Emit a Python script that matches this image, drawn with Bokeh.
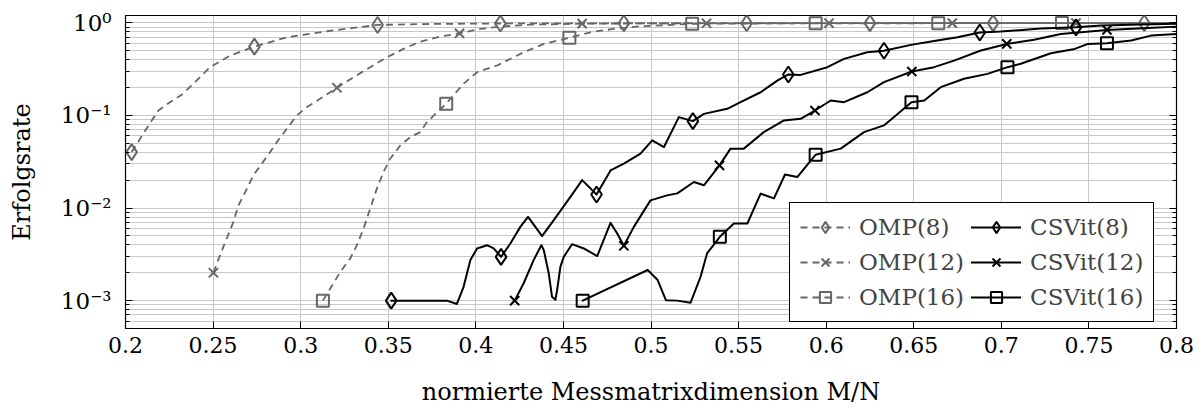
from bokeh.plotting import figure
from bokeh.models import FixedTicker, LogAxis, Legend, LegendItem, Range1d
from bokeh.embed import file_html
from bokeh.resources import INLINE

# ---------------- data ----------------
omp8_x = [0.2035, 0.215, 0.2188, 0.2254, 0.2321, 0.2406, 0.2483, 0.2597, 0.2736, 0.2921,
          0.315, 0.3439, 0.37, 0.40, 0.45, 0.50, 0.55, 0.60, 0.65, 0.70, 0.75, 0.80]
omp8_y = [0.0402, 0.0883, 0.113, 0.139, 0.167, 0.238, 0.332, 0.443, 0.554, 0.698,
          0.811, 0.949, 0.97, 0.982, 0.988, 0.99, 0.991, 0.992, 0.993, 0.994, 0.995, 0.995]
omp8_mx = [0.2035, 0.2736, 0.3439, 0.414, 0.4845, 0.5546, 0.625, 0.6953, 0.7816]
omp8_my = [0.0402, 0.554, 0.949, 0.985, 0.989, 0.991, 0.993, 0.994, 0.995]

omp12_x = [0.2502, 0.254, 0.2578, 0.2616, 0.2645, 0.2693, 0.273, 0.2778, 0.2826, 0.2864,
           0.2921, 0.2978, 0.3035, 0.3111, 0.3207, 0.3302, 0.3397, 0.3493, 0.3587, 0.3683,
           0.3797, 0.3907, 0.4026, 0.414, 0.431, 0.4607, 0.50, 0.55, 0.60, 0.65, 0.70, 0.75, 0.80]
omp12_y = [0.002, 0.0031, 0.00469, 0.00708, 0.0107, 0.0162, 0.0226, 0.0301, 0.0402, 0.0516,
           0.0718, 0.1, 0.123, 0.151, 0.199, 0.259, 0.332, 0.425, 0.523, 0.627,
           0.71, 0.771, 0.859, 0.91, 0.956, 0.98, 0.986, 0.989, 0.991, 0.992, 0.993, 0.994, 0.995]
omp12_mx = [0.2502, 0.3207, 0.3907, 0.4607, 0.5317, 0.6016, 0.672, 0.7426]
omp12_my = [0.002, 0.199, 0.771, 0.98, 0.988, 0.991, 0.992, 0.994]

omp16_x = [0.3127, 0.317, 0.3227, 0.3283, 0.3321, 0.3359, 0.3397, 0.3435, 0.3473, 0.3511,
           0.3569, 0.3626, 0.3683, 0.3721, 0.3831, 0.393, 0.4007, 0.4121, 0.4273, 0.4388,
           0.4534, 0.4654, 0.4787, 0.494, 0.5235, 0.56, 0.60, 0.65, 0.70, 0.75, 0.80]
omp16_y = [0.001, 0.00136, 0.00205, 0.00285, 0.00397, 0.00601, 0.00986, 0.0162, 0.0245, 0.0341,
           0.0475, 0.0584, 0.0661, 0.0847, 0.134, 0.22, 0.293, 0.346, 0.481, 0.592,
           0.688, 0.79, 0.86, 0.918, 0.975, 0.984, 0.988, 0.99, 0.992, 0.993, 0.994]
omp16_mx = [0.3127, 0.3831, 0.4534, 0.5235, 0.594, 0.664, 0.7346]
omp16_my = [0.001, 0.134, 0.688, 0.975, 0.988, 0.99, 0.993]

csv8_x = [0.3517, 0.3835, 0.3892, 0.393, 0.3969, 0.4007, 0.4064, 0.4102, 0.4144, 0.4197,
          0.4254, 0.4298, 0.434, 0.4378, 0.4445, 0.454, 0.4607, 0.4689, 0.4769, 0.4845,
          0.494, 0.5007, 0.5074, 0.5159, 0.5239, 0.5302, 0.5435, 0.5511, 0.5626, 0.5721,
          0.5784, 0.5854, 0.6007, 0.6102, 0.6235, 0.633, 0.6484, 0.6616, 0.675, 0.6877,
          0.6997, 0.7226, 0.7426, 0.757, 0.78, 0.80]
csv8_y = [0.001, 0.001, 0.00092, 0.00141, 0.00274, 0.00366, 0.00397, 0.00366, 0.00297, 0.00414,
          0.00626, 0.00802, 0.00626, 0.00497, 0.0074, 0.0132, 0.02, 0.014, 0.0255, 0.0301,
          0.0386, 0.0538, 0.0456, 0.0959, 0.0868, 0.104, 0.118, 0.139, 0.178, 0.238,
          0.277, 0.274, 0.332, 0.408, 0.481, 0.50, 0.578, 0.635, 0.698, 0.785,
          0.804, 0.866, 0.894, 0.933, 0.96, 0.975]
csv8_mx = [0.3517, 0.4144, 0.4689, 0.5239, 0.5784, 0.633, 0.6877, 0.7426]
csv8_my = [0.001, 0.00297, 0.014, 0.0868, 0.277, 0.50, 0.785, 0.894]

csv12_x = [0.4222, 0.4273, 0.433, 0.4374, 0.4388, 0.4416, 0.4435, 0.4454, 0.4464, 0.4483,
           0.4502, 0.4549, 0.4616, 0.4693, 0.4769, 0.4807, 0.4845, 0.4902, 0.4997, 0.5092,
           0.515, 0.5245, 0.5302, 0.5391, 0.5454, 0.553, 0.5644, 0.5759, 0.5854, 0.5936,
           0.6026, 0.6102, 0.6235, 0.633, 0.6489, 0.6616, 0.673, 0.6883, 0.7031, 0.7187,
           0.7339, 0.7603, 0.7835, 0.80]
csv12_y = [0.001, 0.00154, 0.00274, 0.00397, 0.0035, 0.00198, 0.0011, 0.00102, 0.0013, 0.00233,
           0.00297, 0.00407, 0.00366, 0.00303, 0.00691, 0.00531, 0.00391, 0.00626, 0.0121, 0.0137,
           0.0144, 0.0191, 0.0176, 0.0289, 0.0438, 0.0438, 0.0661, 0.0883, 0.092, 0.113,
           0.145, 0.139, 0.178, 0.229, 0.298, 0.332, 0.391, 0.502, 0.592, 0.655,
           0.759, 0.838, 0.881, 0.91]
csv12_mx = [0.4222, 0.4845, 0.5391, 0.5936, 0.6489, 0.7031, 0.7603]
csv12_my = [0.001, 0.00391, 0.0289, 0.113, 0.298, 0.592, 0.838]

csv16_x = [0.461, 0.4981, 0.5038, 0.5085, 0.515, 0.5226, 0.5283, 0.532, 0.5393, 0.5473,
           0.555, 0.5626, 0.5702, 0.5765, 0.5835, 0.594, 0.6083, 0.6216, 0.633, 0.6487,
           0.656, 0.6654, 0.6787, 0.6921, 0.7035, 0.7111, 0.7283, 0.7419, 0.7495, 0.7603,
           0.7741, 0.7855, 0.80]
csv16_y = [0.001, 0.00214, 0.00167, 0.00101, 0.001, 0.00095, 0.00181, 0.00323, 0.00489, 0.00681,
           0.00681, 0.0143, 0.0127, 0.023, 0.0216, 0.0377, 0.0438, 0.0661, 0.078, 0.139,
           0.145, 0.202, 0.249, 0.281, 0.332, 0.361, 0.47, 0.523, 0.592, 0.602,
           0.643, 0.728, 0.759]
csv16_mx = [0.461, 0.5393, 0.594, 0.6487, 0.7035, 0.7603]
csv16_my = [0.001, 0.00489, 0.0377, 0.139, 0.332, 0.602]

xticks = [0.2, 0.25, 0.3, 0.35, 0.4, 0.45, 0.5, 0.55, 0.6, 0.65, 0.7, 0.75, 0.8]
xtick_labels = ["0.2", "0.25", "0.3", "0.35", "0.4", "0.45", "0.5", "0.55", "0.6",
                "0.65", "0.7", "0.75", "0.8"]
yticks = [0.001, 0.01, 0.1, 1.0]
ytick_labels = ["10\u207b\u00b3", "10\u207b\u00b2", "10\u207b\u00b9", "10\u2070"]
decades = [0.0001, 0.001, 0.01, 0.1]
minor_mult = [2, 3, 4, 5, 6, 7, 8, 9]

legend_labels = ["OMP(8)", "OMP(12)", "OMP(16)", "CSVit(8)", "CSVit(12)", "CSVit(16)"]
x_title = "normierte Messmatrixdimension M/N"
y_title = "Erfolgsrate"

# ---------------- figure ----------------
FONT = "DejaVu Serif"
GRAY = "#666666"
GRID = "#c8c8c8"

p = figure(width=1203, height=415, y_axis_type="log",
           x_range=Range1d(0.2, 0.8), y_range=Range1d(5e-4, 1.2),
           output_backend="svg", toolbar_location=None,
           min_border_left=125, min_border_right=27, min_border_top=15, min_border_bottom=87)
p.background_fill_color = "white"
p.border_fill_color = "white"
p.outline_line_color = "black"
p.outline_line_width = 1.2

minor = [d * m for d in decades for m in minor_mult if 5e-4 <= d * m <= 1.2]
yticker = FixedTicker(ticks=yticks, minor_ticks=minor)
xticker = FixedTicker(ticks=xticks, minor_ticks=[])

p.xaxis.ticker = xticker
p.yaxis.ticker = yticker
p.xgrid.ticker = xticker
p.ygrid.ticker = yticker
p.xgrid.grid_line_color = GRID
p.ygrid.grid_line_color = GRID
p.ygrid.minor_grid_line_color = GRID
p.xgrid.grid_line_width = 1
p.ygrid.grid_line_width = 1

p.xaxis.major_label_overrides = dict(zip(xticks, xtick_labels))
p.yaxis.major_label_overrides = dict(zip(yticks, ytick_labels))

for ax in (p.xaxis[0], p.yaxis[0]):
    ax.axis_line_color = "black"
    ax.major_tick_line_color = "black"
    ax.minor_tick_line_color = "black"
    ax.major_tick_in = 7
    ax.major_tick_out = 0
    ax.minor_tick_in = 4
    ax.minor_tick_out = 0
    ax.major_label_text_font = FONT
    ax.major_label_text_color = "black"
    ax.axis_label_text_font = FONT
    ax.axis_label_text_font_style = "normal"
    ax.axis_label_text_color = "black"

p.xaxis.major_label_text_font_size = "22px"
p.xaxis.major_label_standoff = 8
p.xaxis.axis_label = x_title
p.xaxis.axis_label_text_font_size = "24px"
p.xaxis.axis_label_standoff = 22
p.yaxis.major_label_text_font_size = "23px"
p.yaxis.major_label_standoff = 14
p.yaxis.axis_label = y_title
p.yaxis.axis_label_text_font_size = "24px"
p.yaxis.axis_label_standoff = 22

ra = LogAxis(ticker=yticker, major_label_overrides={t: "" for t in yticks},
             major_tick_in=7, major_tick_out=0, minor_tick_in=4, minor_tick_out=0,
             axis_line_color="black")
p.add_layout(ra, "right")

# ---------------- series ----------------
def series(x, y, mx, my, marker, color, dash, lw, size):
    ln = p.line(x, y, line_color=color, line_width=lw, line_dash=dash,
                line_join="round", line_cap="round" if dash == "solid" else "butt")
    mk = p.scatter(mx, my, marker=marker, size=size, line_color=color,
                   fill_color=None, line_width=2)
    return [ln, mk]

r_omp8 = series(omp8_x, omp8_y, omp8_mx, omp8_my, "diamond", GRAY, "7 5", 1.8, 16)
r_omp12 = series(omp12_x, omp12_y, omp12_mx, omp12_my, "x", GRAY, "7 5", 1.8, 13)
r_omp16 = series(omp16_x, omp16_y, omp16_mx, omp16_my, "square", GRAY, "7 5", 1.8, 12)
r_csv8 = series(csv8_x, csv8_y, csv8_mx, csv8_my, "diamond", "black", "solid", 2, 16)
r_csv12 = series(csv12_x, csv12_y, csv12_mx, csv12_my, "x", "black", "solid", 2, 13)
r_csv16 = series(csv16_x, csv16_y, csv16_mx, csv16_my, "square", "black", "solid", 2, 12)

items = [LegendItem(label=lab, renderers=rs) for lab, rs in
         zip(legend_labels, [r_omp8, r_omp12, r_omp16, r_csv8, r_csv12, r_csv16])]
legend = Legend(items=items, location=(664, 6), ncols=2,
                label_text_font=FONT, label_text_font_size="23px",
                border_line_color="black", border_line_width=1.3, border_line_alpha=1.0,
                background_fill_color="white", background_fill_alpha=1.0,
                padding=10, spacing=7, margin=0, glyph_width=50, glyph_height=28,
                label_height=28, label_standoff=9)
p.add_layout(legend)

open("out.html", "w").write(file_html(p, INLINE))
